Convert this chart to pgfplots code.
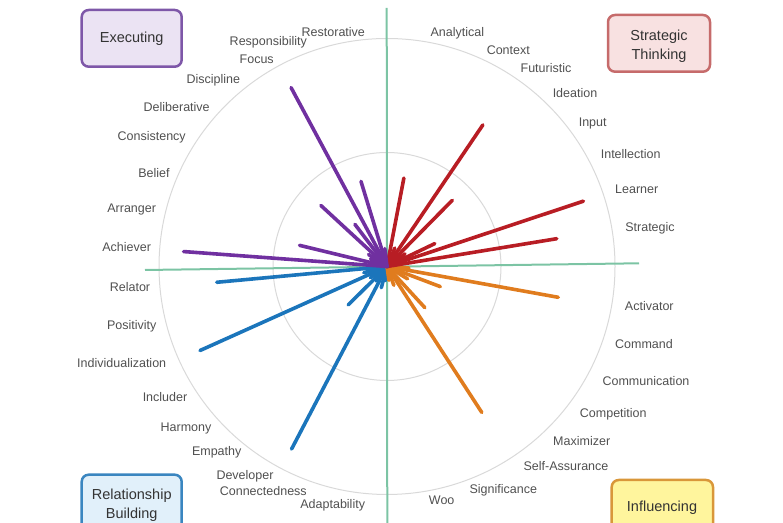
\documentclass[border=0pt]{standalone}
\usepackage{pgfplots}
\pgfplotsset{compat=1.18}
\usepackage{fontspec}
\setmainfont{Liberation Sans}
\definecolor{cexe}{HTML}{7030A0}
\definecolor{cstr}{HTML}{B81D24}
\definecolor{cinf}{HTML}{E07C1E}
\definecolor{crel}{HTML}{1B75BB}
\definecolor{cgreen}{HTML}{7CC4A4}
\definecolor{ccirc}{HTML}{D9D9D9}
\definecolor{ctext}{HTML}{505050}
\definecolor{bexef}{HTML}{EBE3F3}\definecolor{bexed}{HTML}{7E57A8}
\definecolor{bstrf}{HTML}{F8E1E1}\definecolor{bstrd}{HTML}{C66B6B}
\definecolor{brelf}{HTML}{E1F0FA}\definecolor{breld}{HTML}{3A86C0}
\definecolor{binff}{HTML}{FFF59D}\definecolor{binfd}{HTML}{D9973A}
\tikzset{
  ray/.style={line width=3.6bp, line cap=round},
  lab/.style={text=ctext, font=\fontsize{12.5bp}{14bp}\selectfont, inner sep=0pt},
  boxt/.style={text=black!80, font=\fontsize{14.5bp}{19bp}\selectfont, align=center, inner sep=0pt},
  dbox/.style={rounded corners=7bp, line width=2.5bp},
}
\begin{document}
\begin{tikzpicture}
\begin{axis}[
  x=1bp, y=1bp, xmin=-387, xmax=396, ymin=-256.5, ymax=266.5,
  hide axis, clip=false,
]
\coordinate (SW) at (axis cs:-387,-256.5);
\coordinate (NE) at (axis cs:396,266.5);
% circles
\draw[ccirc, line width=1bp] (axis cs:0,0) circle[radius=228];
\draw[ccirc, line width=1bp] (axis cs:0,0) circle[radius=114];
% axis lines
\addplot[cgreen, line width=2bp] coordinates {(-242,-3.5) (252,3.2)};
\addplot[cgreen, line width=2bp] coordinates {(-0.3,258.5) (0.3,-270)};
% Relationship Building (blue)
\addplot[crel, ray, data cs=polar] coordinates {(0,0) (185.3,171)};
\addplot[crel, ray, data cs=polar] coordinates {(0,0) (204.2,205)};
\addplot[crel, ray, data cs=polar] coordinates {(0,0) (224.7,54.5)};
\addplot[crel, ray, data cs=polar] coordinates {(0,0) (242.4,206)};
\addplot[crel, ray, data cs=polar] coordinates {(0,0) (195,24)};
\addplot[crel, ray, data cs=polar] coordinates {(0,0) (214,20)};
\addplot[crel, ray, data cs=polar] coordinates {(0,0) (234,18)};
\addplot[crel, ray, data cs=polar] coordinates {(0,0) (255,22)};
\addplot[crel, ray, data cs=polar] coordinates {(0,0) (265,14)};
% Influencing (orange)
\addplot[cinf, ray, data cs=polar] coordinates {(0,0) (-10.2,174)};
\addplot[cinf, ray, data cs=polar] coordinates {(0,0) (-20.7,57)};
\addplot[cinf, ray, data cs=polar] coordinates {(0,0) (-47.4,56)};
\addplot[cinf, ray, data cs=polar] coordinates {(0,0) (-57,174)};
\addplot[cinf, ray, data cs=polar] coordinates {(0,0) (-4,22)};
\addplot[cinf, ray, data cs=polar] coordinates {(0,0) (-31,24)};
\addplot[cinf, ray, data cs=polar] coordinates {(0,0) (-70,20)};
\addplot[cinf, ray, data cs=polar] coordinates {(0,0) (-82,14)};
% Strategic Thinking (red)
\addplot[cstr, ray, data cs=polar] coordinates {(0,0) (79.2,90)};
\addplot[cstr, ray, data cs=polar] coordinates {(0,0) (55.9,171)};
\addplot[cstr, ray, data cs=polar] coordinates {(0,0) (45.4,93)};
\addplot[cstr, ray, data cs=polar] coordinates {(0,0) (25.6,53)};
\addplot[cstr, ray, data cs=polar] coordinates {(0,0) (18.4,207)};
\addplot[cstr, ray, data cs=polar] coordinates {(0,0) (9.3,172)};
\addplot[cstr, ray, data cs=polar] coordinates {(0,0) (67,20)};
\addplot[cstr, ray, data cs=polar] coordinates {(0,0) (35,22)};
% Executing (purple)
\addplot[cexe, ray, data cs=polar] coordinates {(0,0) (175.8,204)};
\addplot[cexe, ray, data cs=polar] coordinates {(0,0) (166.4,90)};
\addplot[cexe, ray, data cs=polar] coordinates {(0,0) (137.3,90)};
\addplot[cexe, ray, data cs=polar] coordinates {(0,0) (127.3,53)};
\addplot[cexe, ray, data cs=polar] coordinates {(0,0) (118.2,203)};
\addplot[cexe, ray, data cs=polar] coordinates {(0,0) (107,89)};
\addplot[cexe, ray, data cs=polar] coordinates {(0,0) (97,18)};
\addplot[cexe, ray, data cs=polar] coordinates {(0,0) (147,22)};
\addplot[cexe, ray, data cs=polar] coordinates {(0,0) (156,18)};
% theme labels
\node[lab] at (axis cs:-53.7,234.8) {Restorative};
\node[lab] at (axis cs:-118.7,223.8) {Responsibility};
\node[lab] at (axis cs:-130.3,207.2) {Focus};
\node[lab] at (axis cs:-173.7,186.5) {Discipline};
\node[lab] at (axis cs:-210.3,159.2) {Deliberative};
\node[lab] at (axis cs:-235.3,129.2) {Consistency};
\node[lab] at (axis cs:-233,93.8) {Belief};
\node[lab] at (axis cs:-255.3,57.2) {Arranger};
\node[lab] at (axis cs:-260.3,19.8) {Achiever};
\node[lab] at (axis cs:-257,-20.8) {Relator};
\node[lab] at (axis cs:-255.3,-59.5) {Positivity};
\node[lab] at (axis cs:-265.3,-96.8) {Individualization};
\node[lab] at (axis cs:-222,-130.2) {Includer};
\node[lab] at (axis cs:-201,-161.8) {Harmony};
\node[lab] at (axis cs:-170.3,-186.2) {Empathy};
\node[lab] at (axis cs:-142,-210.2) {Developer};
\node[lab] at (axis cs:-123.7,-224.2) {Connectedness};
\node[lab] at (axis cs:-54.3,-238.5) {Adaptability};
\node[lab] at (axis cs:70.3,233.2) {Analytical};
\node[lab] at (axis cs:121.3,215.8) {Context};
\node[lab] at (axis cs:159,198.2) {Futuristic};
\node[lab] at (axis cs:188,173.8) {Ideation};
\node[lab] at (axis cs:205.7,143.2) {Input};
\node[lab] at (axis cs:243.7,112.5) {Intellection};
\node[lab] at (axis cs:249.7,77.2) {Learner};
\node[lab] at (axis cs:263,38.2) {Strategic};
\node[lab] at (axis cs:262.3,-39.5) {Activator};
\node[lab] at (axis cs:257,-77.8) {Command};
\node[lab] at (axis cs:259,-114.2) {Communication};
\node[lab] at (axis cs:226.3,-147.5) {Competition};
\node[lab] at (axis cs:194.7,-174.2) {Maximizer};
\node[lab] at (axis cs:179,-199.5) {Self-Assurance};
\node[lab] at (axis cs:116.3,-224.2) {Significance};
\node[lab] at (axis cs:54.7,-233.5) {Woo};
% domain boxes
\draw[dbox, draw=bexed, fill=bexef] (axis cs:-305.3,256.5) rectangle (axis cs:-205.3,199.8);
\node[boxt] at (axis cs:-255.3,228.2) {Executing};
\draw[dbox, draw=bstrd, fill=bstrf] (axis cs:221,251.5) rectangle (axis cs:323,194.8);
\node[boxt] at (axis cs:272,220) {Strategic\\Thinking};
\draw[dbox, draw=breld, fill=brelf] (axis cs:-305.3,-208.2) rectangle (axis cs:-205.3,-290);
\node[boxt] at (axis cs:-255.3,-238.5) {Relationship\\Building};
\draw[dbox, draw=binfd, fill=binff] (axis cs:224.7,-213.5) rectangle (axis cs:326,-290);
\node[boxt] at (axis cs:275,-241.5) {Influencing};
\end{axis}
\pgfresetboundingbox
\path (SW) rectangle (NE);
\end{tikzpicture}
\end{document}
